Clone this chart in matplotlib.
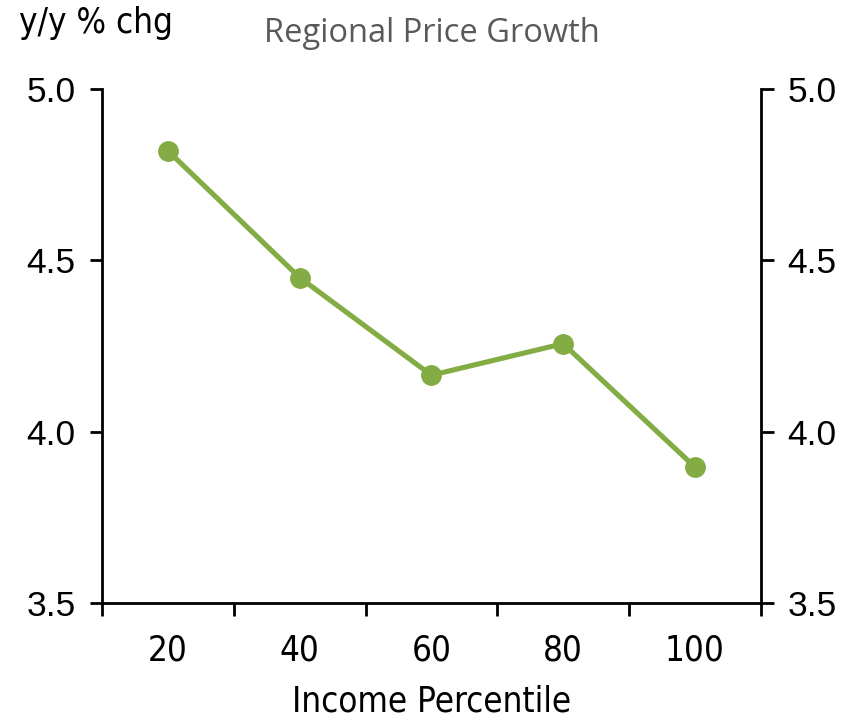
import matplotlib.pyplot as plt
from matplotlib.ticker import FixedLocator, MultipleLocator
from matplotlib import font_manager

percentiles = ['20', '40', '60', '80', '100']
growth = [4.82, 4.45, 4.165, 4.257, 3.897]

green = '#84ac44'
num_font = ['Liberation Sans', 'DejaVu Sans']
narrow = font_manager.FontProperties(family=['DejaVu Sans'], stretch='condensed', size=25)

fig = plt.figure(figsize=(8.59, 7.18), dpi=100)
ax = fig.add_axes([0.1187, 0.160, 0.767, 0.716])

x = list(range(len(percentiles)))
ax.plot(x, growth, color=green, lw=3.7, marker='o', markersize=14, zorder=3)

ax.set_xlim(-0.5, len(percentiles) - 0.5)
ax.set_ylim(3.5, 5.0)

# category labels centred, tick marks between categories
ax.set_xticks(x)
ax.set_xticklabels(percentiles, fontproperties=narrow)
ax.tick_params(axis='x', which='major', length=0, pad=22)
ax.xaxis.set_minor_locator(FixedLocator([i - 0.5 for i in range(len(percentiles) + 1)]))
ax.tick_params(axis='x', which='minor', direction='out', length=9, width=2)

ax.yaxis.set_major_locator(MultipleLocator(0.5))
ax.tick_params(axis='y', direction='out', length=9, width=2, labelsize=25.5, pad=10,
               left=True, right=True, labelleft=True, labelright=True)
for lab in ax.get_yticklabels():
    lab.set_family(num_font)
ax.yaxis.set_major_formatter(plt.FormatStrFormatter('%.1f'))

for side in ['left', 'right', 'bottom']:
    ax.spines[side].set_linewidth(2)
ax.spines['top'].set_visible(False)

ax.set_xlabel('Income Percentile', fontproperties=narrow, labelpad=12)
fig.text(0.022, 0.944, 'y/y % chg', fontproperties=narrow, va='bottom')
fig.text(0.503, 0.93, 'Regional Price Growth', fontsize=23.5, color='#595959',
         ha='center', va='bottom', family=['Open Sans', 'DejaVu Sans'])

plt.savefig('out.png', dpi=100)
